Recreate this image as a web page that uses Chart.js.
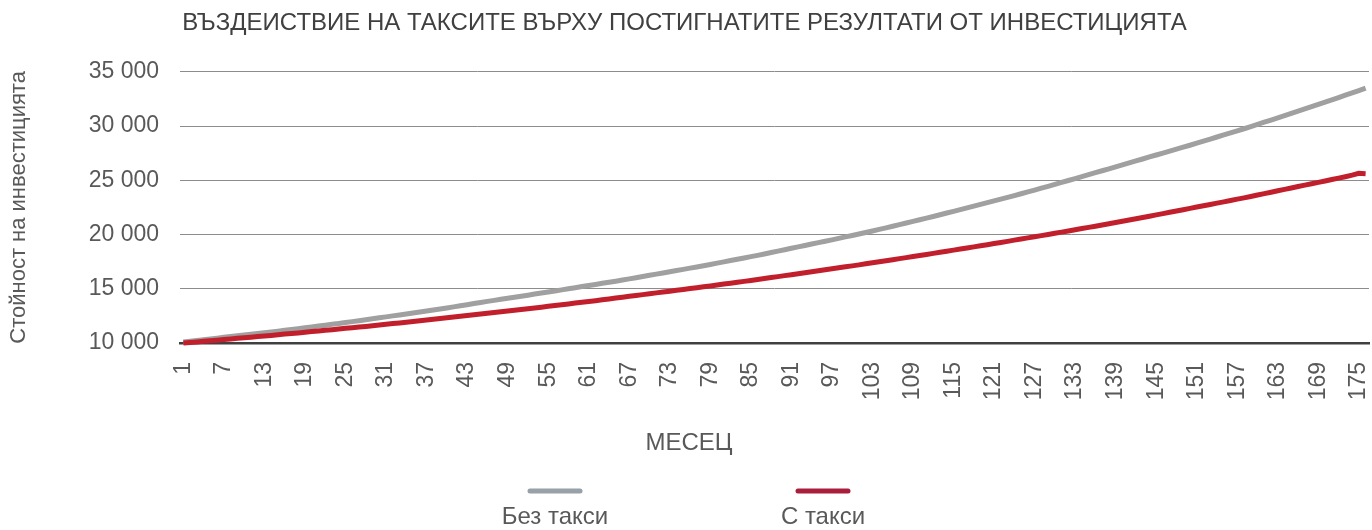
<!DOCTYPE html>
<html lang="bg">
<head>
<meta charset="utf-8">
<title>Въздействие на таксите</title>
<script src="https://cdn.jsdelivr.net/npm/chart.js@4.4.1/dist/chart.umd.min.js"></script>
<style>
  html, body { margin: 0; padding: 0; background: #fff; }
  #wrap { width: 1372px; height: 530px; }
</style>
</head>
<body>
<div id="wrap"><canvas id="feesChart" width="1372" height="530"></canvas></div>
<script>
// months on the x axis
const months = [
  1,2,3,4,5,6,7,8,9,10,11,12,13,14,15,16,17,18,19,20,21,22,23,24,25,26,27,28,29,30,
  31,32,33,34,35,36,37,38,39,40,41,42,43,44,45,46,47,48,49,50,51,52,53,54,55,56,57,58,59,60,
  61,62,63,64,65,66,67,68,69,70,71,72,73,74,75,76,77,78,79,80,81,82,83,84,85,86,87,88,89,90,
  91,92,93,94,95,96,97,98,99,100,101,102,103,104,105,106,107,108,109,110,111,112,113,114,115,116,117,118,119,120,
  121,122,123,124,125,126,127,128,129,130,131,132,133,134,135,136,137,138,139,140,141,142,143,144,145,146,147,148,149,150,
  151,152,153,154,155,156,157,158,159,160,161,162,163,164,165,166,167,168,169,170,171,172,173,174,175,176
];

// "Без такси"
const noFees = [
  10100,10170,10240,10310,10380,10450,10520,10590,10660,10730,10800,10870,10940,11020,11090,11170,11240,11320,11400,11480,11560,11640,11720,
  11800,11890,11970,12060,12140,12230,12320,12410,12500,12590,12680,12770,12860,12950,13040,13130,13230,13330,13430,13530,13640,
  13740,13840,13930,14030,14120,14220,14310,14410,14510,14600,14700,14800,14900,15000,15100,15200,15300,15400,15500,15600,15700,15800,
  15910,16020,16130,16240,16350,16460,16570,16680,16790,16900,17010,17120,17240,17360,17480,17600,17720,17840,17960,18080,18210,
  18340,18470,18600,18730,18860,18990,19120,19250,19380,19510,19650,19780,19910,20050,
  20190,20330,20470,20610,20760,20910,21060,21210,21360,21510,21660,21820,21980,22140,22300,
  22460,22620,22780,22940,23100,23260,23420,23590,23760,23930,24100,24270,24440,24620,24800,
  24980,25160,25340,25520,25700,25880,26060,26240,26420,26600,26780,26960,27150,
  27330,27510,27690,27870,28050,28230,28420,28610,28800,28990,29180,29370,29560,29750,29950,
  30150,30350,30550,30750,30950,31160,31370,31580,31790,32000,32210,32420,32630,32840,33050,33270,33490
];

// "С такси"
const withFees = [
  10000,10050,10100,10160,10210,10260,10320,10370,10430,10480,10540,10590,10650,10700,10760,10820,10870,10930,10990,11050,11110,11170,11230,
  11290,11350,11410,11470,11530,11600,11660,11720,11790,11850,11920,11980,12050,12110,12180,12250,12320,12390,12460,12530,12600,
  12670,12740,12810,12880,12950,13020,13090,13160,13230,13300,13380,13450,13530,13600,13680,13750,13830,13900,13980,14060,14140,14220,
  14300,14380,14460,14540,14620,14700,14780,14860,14940,15020,15100,15180,15260,15340,15430,15510,15600,15680,15770,15850,15940,
  16030,16120,16210,16300,16390,16480,16570,16660,16750,16840,16930,17020,17110,17200,
  17300,17390,17490,17580,17680,17780,17870,17970,18070,18160,18260,18360,18460,18560,18660,
  18760,18860,18960,19060,19170,19270,19370,19480,19580,19690,19790,19900,20000,20110,20220,
  20330,20440,20550,20660,20770,20880,21000,21110,21220,21340,21450,21570,21690,
  21810,21930,22050,22170,22290,22410,22530,22650,22770,22890,23010,23130,23260,23380,23510,
  23640,23770,23900,24030,24160,24290,24420,24550,24680,24810,24940,25070,25200,25330,25470,25640,25610
];

const yMin = 10000;
const yMax = 35000;
const yStep = 5000;
const labelEvery = 6; // 1, 7, 13 ... 175

const textColor = '#595959';
const fontFamily = '"Liberation Sans", Arial, sans-serif';

// x axis name and legend under the chart (line sample on top, name below)
const bottomLegend = {
  id: 'bottomLegend',
  afterDraw(chart) {
    const ctx = chart.ctx;
    const mid = chart.width / 2 + 3;
    const offsets = [-134, 134];
    ctx.save();
    ctx.fillStyle = textColor;
    ctx.font = '24px ' + fontFamily;
    ctx.textAlign = 'center';
    ctx.textBaseline = 'middle';
    ctx.fillText('МЕСЕЦ', mid, chart.height - 87);

    chart.data.datasets.forEach((ds, i) => {
      const cx = mid + offsets[i];
      const lineY = chart.height - 39;
      ctx.strokeStyle = ds.legendColor || ds.borderColor;
      ctx.lineWidth = 5;
      ctx.lineCap = 'round';
      ctx.beginPath();
      ctx.moveTo(cx - 25, lineY);
      ctx.lineTo(cx + 25, lineY);
      ctx.stroke();
      ctx.fillText(ds.label, cx, chart.height - 13);
    });
    ctx.restore();
  }
};

const formatThousands = (v) => String(v).replace(/\B(?=(\d{3})+(?!\d))/g, ' ');

new Chart(document.getElementById('feesChart'), {
  type: 'line',
  data: {
    labels: months,
    datasets: [
      {
        label: 'Без такси',
        data: noFees,
        borderColor: '#a0a0a1',
        legendColor: '#98a0a8',
        borderWidth: 5,
        pointRadius: 0,
        tension: 0,
        clip: false,
        order: 1,
      },
      {
        label: 'С такси',
        data: withFees,
        borderColor: '#c21f2c',
        legendColor: '#a91e3c',
        borderWidth: 5,
        pointRadius: 0,
        tension: 0,
        clip: false,
        order: 0,
      },
    ],
  },
  options: {
    responsive: false,
    animation: false,
    layout: { padding: { left: 0, right: 3, top: 0, bottom: 72 } },
    plugins: {
      legend: { display: false },
      tooltip: { enabled: false },
      title: {
        display: true,
        text: 'ВЪЗДЕИСТВИЕ НА ТАКСИТЕ ВЪРХУ ПОСТИГНАТИТЕ РЕЗУЛТАТИ ОТ ИНВЕСТИЦИЯТА',
        color: '#404040',
        font: { family: fontFamily, size: 24, weight: 'normal' },
        padding: { top: 9, bottom: 34 },
      },
    },
    scales: {
      x: {
        offset: true,
        grid: { display: false, drawTicks: false },
        border: { display: true, color: '#404040', width: 2.5 },
        ticks: {
          autoSkip: false,
          minRotation: 90,
          maxRotation: 90,
          padding: 19,
          color: textColor,
          font: { family: fontFamily, size: 23 },
          callback: (val, idx) => (idx % labelEvery === 0 ? months[idx] : ''),
        },
        afterFit: (scale) => {
          scale.height = 115;
          scale.paddingLeft = 0;
          scale.paddingRight = 0;
        },
      },
      y: {
        min: yMin,
        max: yMax,
        grid: { color: '#8c8c8c', lineWidth: 1, drawTicks: false },
        border: { display: false },
        ticks: {
          stepSize: yStep,
          padding: 21,
          color: textColor,
          font: { family: fontFamily, size: 23 },
          callback: (v) => formatThousands(v),
        },
        title: {
          display: true,
          text: 'Стойност на инвестицията',
          color: textColor,
          font: { family: fontFamily, size: 22 },
          padding: { top: 6, bottom: 0 },
        },
        afterFit: (scale) => { scale.width = 180; },
      },
    },
  },
  plugins: [bottomLegend],
});
</script>
</body>
</html>
